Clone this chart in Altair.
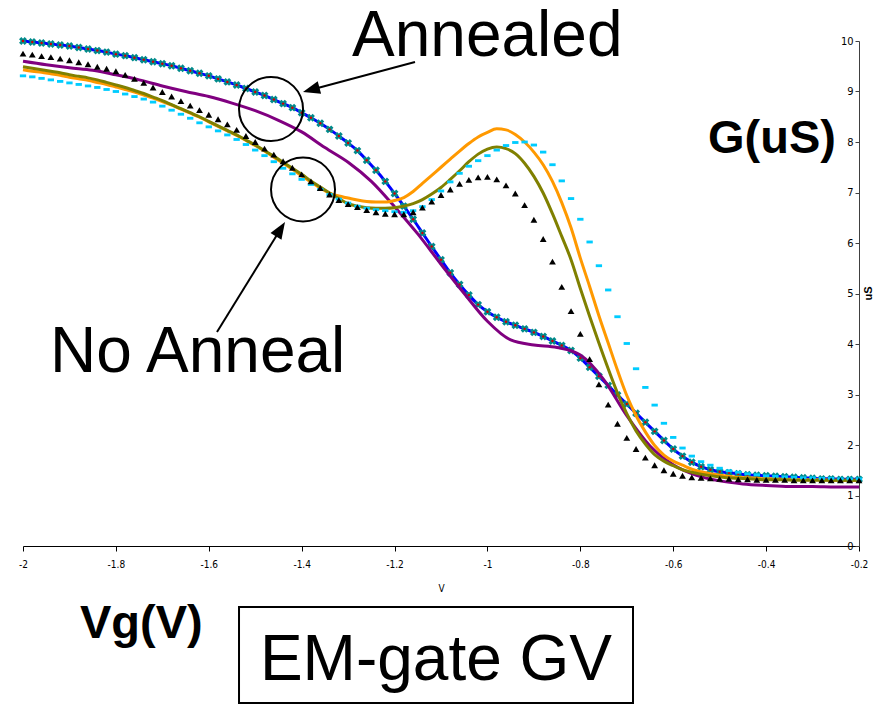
import altair as alt
import pandas as pd

# ---------------- data ----------------
VG_FINE = [
    -2.00, -1.98, -1.96, -1.94, -1.92, -1.90, -1.88, -1.86, -1.84, -1.82,
    -1.80, -1.78, -1.76, -1.74, -1.72, -1.70, -1.68, -1.66, -1.64, -1.62,
    -1.60, -1.58, -1.56, -1.54, -1.52, -1.50, -1.48, -1.46, -1.44, -1.42,
    -1.40, -1.38, -1.36, -1.34, -1.32, -1.30, -1.28, -1.26, -1.24, -1.22,
    -1.20, -1.18, -1.16, -1.14, -1.12, -1.10, -1.08, -1.06, -1.04, -1.02,
    -1.00, -0.98, -0.96, -0.94, -0.92, -0.90, -0.88, -0.86, -0.84, -0.82,
    -0.80, -0.78, -0.76, -0.74, -0.72, -0.70, -0.68, -0.66, -0.64, -0.62,
    -0.60, -0.58, -0.56, -0.54, -0.52, -0.50, -0.48, -0.46, -0.44, -0.42,
    -0.40, -0.38, -0.36, -0.34, -0.32, -0.30, -0.28, -0.26, -0.24, -0.22,
    -0.20,
]

ANNEALED = [
    10.00, 9.98, 9.96, 9.94, 9.92, 9.90, 9.87, 9.84, 9.81, 9.78,
    9.74, 9.71, 9.67, 9.63, 9.59, 9.55, 9.51, 9.46, 9.41, 9.36,
    9.31, 9.25, 9.19, 9.13, 9.06, 8.99, 8.92, 8.84, 8.76, 8.68,
    8.58, 8.48, 8.37, 8.25, 8.12, 7.98, 7.83, 7.64, 7.44, 7.22,
    6.98, 6.73, 6.47, 6.20, 5.93, 5.67, 5.41, 5.18, 4.97, 4.78,
    4.64, 4.53, 4.44, 4.37, 4.30, 4.23, 4.15, 4.06, 3.97, 3.87,
    3.72, 3.54, 3.36, 3.18, 2.99, 2.81, 2.63, 2.45, 2.27, 2.09,
    1.92, 1.78, 1.66, 1.57, 1.51, 1.47, 1.45, 1.43, 1.41, 1.40,
    1.39, 1.38, 1.37, 1.36, 1.35, 1.34, 1.33, 1.33, 1.32, 1.32,
    1.32,
]

NOANNEAL_BLACK = [
    9.75, 9.73, 9.70, 9.68, 9.65, 9.62, 9.58, 9.54, 9.49, 9.45,
    9.40, 9.33, 9.25, 9.17, 9.08, 8.99, 8.90, 8.81, 8.72, 8.63,
    8.54, 8.45, 8.35, 8.24, 8.12, 8.00, 7.87, 7.75, 7.62, 7.49,
    7.36, 7.22, 7.09, 6.96, 6.85, 6.77, 6.71, 6.65, 6.61, 6.58,
    6.57, 6.57, 6.61, 6.70, 6.82, 6.95, 7.06, 7.17, 7.25, 7.30,
    7.31, 7.26, 7.14, 6.98, 6.75, 6.46, 6.08, 5.63, 5.13, 4.65,
    4.20, 3.70, 3.20, 2.80, 2.42, 2.14, 1.92, 1.75, 1.60, 1.50,
    1.43, 1.39, 1.36, 1.35, 1.34, 1.33, 1.33, 1.32, 1.32, 1.31,
    1.31, 1.31, 1.31, 1.30, 1.30, 1.30, 1.30, 1.30, 1.30, 1.30,
    1.30,
]

NOANNEAL_CYAN = [
    9.31, 9.29, 9.26, 9.23, 9.20, 9.17, 9.14, 9.11, 9.08, 9.04,
    9.00, 8.95, 8.90, 8.85, 8.79, 8.71, 8.63, 8.55, 8.47, 8.38,
    8.30, 8.22, 8.14, 8.05, 7.95, 7.84, 7.73, 7.61, 7.48, 7.37,
    7.26, 7.16, 7.06, 6.96, 6.87, 6.79, 6.73, 6.69, 6.66, 6.64,
    6.62, 6.61, 6.64, 6.72, 6.86, 7.03, 7.21, 7.38, 7.52, 7.63,
    7.73, 7.84, 7.93, 7.99, 8.00, 7.94, 7.80, 7.55, 7.23, 6.88,
    6.47, 6.02, 5.55, 5.07, 4.54, 4.01, 3.51, 3.14, 2.79, 2.43,
    2.15, 1.94, 1.78, 1.67, 1.60, 1.54, 1.49, 1.46, 1.43, 1.41,
    1.39, 1.38, 1.37, 1.36, 1.35, 1.35, 1.34, 1.34, 1.33, 1.33,
    1.33,
]

NOANNEAL_ORANGE = [
    9.43, 9.40, 9.38, 9.35, 9.32, 9.28, 9.25, 9.22, 9.18, 9.14,
    9.09, 9.04, 8.99, 8.93, 8.87, 8.80, 8.73, 8.65, 8.57, 8.49,
    8.40, 8.31, 8.22, 8.13, 8.03, 7.93, 7.82, 7.70, 7.58, 7.46,
    7.33, 7.21, 7.09, 6.99, 6.93, 6.89, 6.85, 6.82, 6.81, 6.81,
    6.84, 6.90, 7.02, 7.18, 7.34, 7.50, 7.66, 7.82, 7.97, 8.10,
    8.19, 8.26, 8.24, 8.15, 8.00, 7.80, 7.55, 7.22, 6.80, 6.30,
    5.70, 5.14, 4.56, 4.02, 3.48, 2.98, 2.58, 2.26, 1.99, 1.80,
    1.68, 1.60, 1.52, 1.47, 1.43, 1.40, 1.38, 1.36, 1.35, 1.34,
    1.33, 1.33, 1.32, 1.32, 1.31, 1.31, 1.31, 1.30, 1.30, 1.30,
    1.30,
]

NOANNEAL_OLIVE = [
    9.49, 9.46, 9.43, 9.40, 9.37, 9.33, 9.30, 9.27, 9.23, 9.18,
    9.13, 9.08, 9.02, 8.96, 8.89, 8.82, 8.74, 8.66, 8.58, 8.50,
    8.41, 8.32, 8.23, 8.14, 8.04, 7.94, 7.83, 7.72, 7.60, 7.48,
    7.36, 7.23, 7.11, 6.99, 6.88, 6.78, 6.73, 6.70, 6.69, 6.69,
    6.70, 6.73, 6.78, 6.86, 6.97, 7.10, 7.26, 7.43, 7.61, 7.76,
    7.86, 7.90, 7.87, 7.77, 7.58, 7.32, 6.99, 6.58, 6.13, 5.67,
    5.10, 4.55, 4.02, 3.51, 3.03, 2.62, 2.28, 2.02, 1.81, 1.68,
    1.59, 1.51, 1.46, 1.42, 1.39, 1.37, 1.35, 1.34, 1.33, 1.32,
    1.31, 1.31, 1.31, 1.30, 1.30, 1.30, 1.30, 1.30, 1.30, 1.30,
    1.30,
]

VG_COARSE = [
    -2.00, -1.95, -1.90, -1.85, -1.80, -1.75, -1.70, -1.65, -1.60, -1.55,
    -1.50, -1.45, -1.40, -1.35, -1.30, -1.25, -1.20, -1.15, -1.10, -1.05,
    -1.00, -0.95, -0.90, -0.85, -0.80, -0.75, -0.70, -0.65, -0.60, -0.55,
    -0.50, -0.45, -0.40, -0.35, -0.30, -0.25, -0.20,
]

ANNEALED_PURPLE = [
    9.60, 9.53, 9.47, 9.42, 9.33, 9.23, 9.11, 9.00, 8.90, 8.77,
    8.62, 8.43, 8.20, 7.89, 7.60, 7.22, 6.72, 6.18, 5.58, 5.00,
    4.45, 4.08, 3.98, 3.93, 3.78, 3.30, 2.58, 1.98, 1.61, 1.40,
    1.29, 1.23, 1.20, 1.18, 1.18, 1.17, 1.17,
]

X_TICKS = [-2, -1.8, -1.6, -1.4, -1.2, -1, -0.8, -0.6, -0.4, -0.2]
Y_TICKS = [0, 1, 2, 3, 4, 5, 6, 7, 8, 9, 10]

# annotations (data units)
BIG_TEXT = ["Annealed", "No Anneal"]
BIG_TEXT_V = [-1.2916, -1.9419]
BIG_TEXT_G = [9.70, 3.446]
BOLD_TEXT = ["G(uS)", "Vg(V)"]
BOLD_TEXT_V = [-0.5251, -1.8773]
BOLD_TEXT_G = [7.782, -1.822]
BOX_TEXT = ["EM-gate GV"]
BOX_TEXT_V = [-1.1108]
BOX_TEXT_G = [-2.653]
BOX_V = [-1.5349, -0.6866]
BOX_G = [-1.208, -3.109]
CIRCLE_V = [-1.466, -1.3971]
CIRCLE_G = [8.653, 7.059]
ARROW_TAIL_V = [-1.1560, -1.5823]
ARROW_TAIL_G = [9.584, 4.238]
ARROW_HEAD_V = [-1.3795, -1.4456]
ARROW_HEAD_G = [9.034, 6.273]
ARROW_ANGLE = [255, 32]

# ---------------- tables ----------------
df_ann = pd.DataFrame({"V": VG_FINE, "G": ANNEALED})
df_black = pd.DataFrame({"V": VG_FINE, "G": NOANNEAL_BLACK})
df_cyan = pd.DataFrame({"V": VG_FINE, "G": NOANNEAL_CYAN})
df_orange = pd.DataFrame({"V": VG_FINE, "G": NOANNEAL_ORANGE})
df_olive = pd.DataFrame({"V": VG_FINE, "G": NOANNEAL_OLIVE})
df_purple = pd.DataFrame({"V": VG_COARSE, "G": ANNEALED_PURPLE})

df_big = pd.DataFrame({"V": BIG_TEXT_V, "G": BIG_TEXT_G, "t": BIG_TEXT})
df_bold = pd.DataFrame({"V": BOLD_TEXT_V, "G": BOLD_TEXT_G, "t": BOLD_TEXT})
df_boxtext = pd.DataFrame({"V": BOX_TEXT_V, "G": BOX_TEXT_G, "t": BOX_TEXT})
df_box = pd.DataFrame({"V": [BOX_V[0]], "V2": [BOX_V[1]], "G": [BOX_G[0]], "G2": [BOX_G[1]]})
df_circ = pd.DataFrame({"V": CIRCLE_V, "G": CIRCLE_G})
df_arrow = pd.DataFrame({"V": ARROW_TAIL_V, "G": ARROW_TAIL_G,
                         "V2": ARROW_HEAD_V, "G2": ARROW_HEAD_G})
df_head = pd.DataFrame({"V": ARROW_HEAD_V, "G": ARROW_HEAD_G, "ang": ARROW_ANGLE})

# ---------------- scales / axes ----------------
TICK_FONT = "Liberation Sans Narrow, DejaVu Sans Condensed, Liberation Sans, Arial"
x_axis = alt.Axis(values=X_TICKS, title="V", labelExpr="toString(datum.value)",
                  grid=False, domainColor="black", tickColor="black", tickSize=5,
                  labelFontSize=10, labelFont=TICK_FONT, labelColor="black",
                  labelPadding=8, labelFlush=False, titleFontSize=10,
                  titleFont=TICK_FONT, titleFontWeight="normal", titleColor="black",
                  titlePadding=14)
y_axis = alt.Axis(orient="left", offset=-836, values=Y_TICKS, title="uS", grid=False,
                  domainColor="#404040", tickColor="#404040", tickSize=4,
                  labelFontSize=11, labelFont=TICK_FONT, labelColor="black",
                  labelPadding=2, titleFont="Liberation Sans, Arial", titleFontSize=11,
                  titleFontWeight="bold", titleColor="black", titleAngle=270,
                  titleAlign="center", titleBaseline="top", titleX=3, titleY=252)

xs = alt.Scale(domain=[-2, -0.2], nice=False, zero=False)
ys = alt.Scale(domain=[0, 10], nice=False, zero=False)


def X(f="V"):
    return alt.X(f"{f}:Q", scale=xs, axis=x_axis)


def Y(f="G"):
    return alt.Y(f"{f}:Q", scale=ys, axis=y_axis)


LINE_W = 3

blue = alt.Chart(df_ann).mark_line(color="#0000FF", strokeWidth=3, interpolate="monotone").encode(x=X(), y=Y())
purple = alt.Chart(df_purple).mark_line(color="#800080", strokeWidth=LINE_W, interpolate="monotone").encode(x=X(), y=Y())
orange = alt.Chart(df_orange).mark_line(color="#FF9900", strokeWidth=LINE_W, interpolate="monotone").encode(x=X(), y=Y())
olive = alt.Chart(df_olive).mark_line(color="#808000", strokeWidth=LINE_W, interpolate="monotone").encode(x=X(), y=Y())
cyan = alt.Chart(df_cyan).mark_point(shape="M-1,-0.45L1,-0.45L1,0.45L-1,0.45Z", filled=True,
                                     color="#00CCFF", size=40, opacity=1).encode(x=X(), y=Y())
black = alt.Chart(df_black).mark_point(shape="triangle-up", filled=True, color="black",
                                       size=46, opacity=1).encode(x=X(), y=Y())
teal = alt.Chart(df_ann).mark_point(shape="cross", angle=45, filled=True, color="#008B8B",
                                    size=64, opacity=1).encode(x=X(), y=Y())
red = alt.Chart(df_ann).mark_point(shape="circle", filled=True, color="#D00000",
                                   size=6, opacity=1).encode(x=X(), y=Y())

circles = alt.Chart(df_circ).mark_point(shape="circle", filled=False, color="black",
                                        size=4096, strokeWidth=2, opacity=1).encode(x=X(), y=Y())
arrows = alt.Chart(df_arrow).mark_rule(color="black", strokeWidth=2).encode(
    x=X(), y=Y(), x2=alt.X2("V2:Q"), y2=alt.Y2("G2:Q"))
heads = alt.Chart(df_head).mark_point(shape="M0,-1L-0.76,1L0.76,1Z", filled=True, color="black",
                                      size=289, opacity=1).encode(
    x=X(), y=Y(), angle=alt.Angle("ang:Q", scale=None))

big = alt.Chart(df_big).mark_text(font="Liberation Sans, Arial", fontSize=64, align="left",
                                  baseline="alphabetic", color="black").encode(x=X(), y=Y(), text="t:N")
bold = alt.Chart(df_bold).mark_text(font="Liberation Sans, Arial", fontSize=47, fontWeight="bold",
                                    align="left", baseline="alphabetic", color="black").encode(
    x=X(), y=Y(), text="t:N")
box = alt.Chart(df_box).mark_rect(fillOpacity=0, stroke="black", strokeWidth=2).encode(
    x=X(), y=Y(), x2=alt.X2("V2:Q"), y2=alt.Y2("G2:Q"))
boxtext = alt.Chart(df_boxtext).mark_text(font="Liberation Sans, Arial", fontSize=64, align="center",
                                          baseline="alphabetic", color="black").encode(
    x=X(), y=Y(), text="t:N")

chart = alt.layer(
    blue, teal, red, purple, orange, olive, cyan, black,
    circles, arrows, heads, big, bold, box, boxtext,
).properties(
    width=836, height=505,
    autosize=alt.AutoSizeParams(type="none"),
    padding={"left": 15, "top": 33, "right": 15, "bottom": 159},
).configure_view(stroke="transparent")

chart.save("out.html", embed_options={"renderer": "svg", "actions": False})
